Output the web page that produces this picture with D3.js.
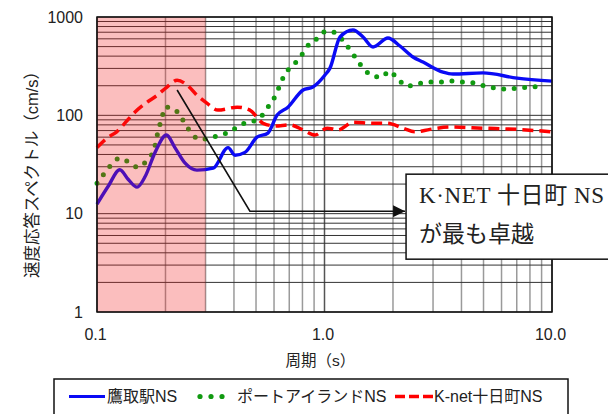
<!DOCTYPE html>
<html>
<head>
<meta charset="utf-8">
<script src="https://cdn.jsdelivr.net/npm/d3@7"></script>
<style>
  body { margin: 0; background: #fff; }
  svg { display: block; }
  text { font-family: "Liberation Sans", "Noto Sans CJK JP", sans-serif; fill: #222; }
  .note { font-family: "Liberation Serif", "Noto Sans CJK JP", serif; }
</style>
</head>
<body>
<svg width="608" height="414"></svg>
<script>
// 鷹取駅NS
const takatoriT = [0.1, 0.112, 0.126, 0.137, 0.15, 0.163, 0.18, 0.202, 0.22, 0.244, 0.275, 0.324, 0.377, 0.404, 0.447, 0.505, 0.564, 0.618, 0.691, 0.805, 0.889, 1.005, 1.057, 1.17, 1.334, 1.477, 1.634, 1.901, 2.147, 2.448, 2.71, 3.318, 3.67, 4.97, 7.02, 10];
const takatoriV = [12.5, 19, 28, 22.4, 18.6, 24, 42, 63, 47, 32.6, 27.7, 29, 47, 39.3, 42, 60, 66, 100, 121, 181, 194, 257, 302, 626, 738, 626, 495, 611, 507, 392, 348, 275, 263, 270, 239, 223];

// ポートアイランドNS
const portT = [0.1, 0.108, 0.116, 0.126, 0.14, 0.151, 0.166, 0.178, 0.187, 0.193, 0.199, 0.216, 0.234, 0.249, 0.264, 0.287, 0.314, 0.347, 0.388, 0.425, 0.47, 0.52, 0.559, 0.594, 0.624, 0.65, 0.691, 0.749, 0.805, 0.863, 0.936, 1.015, 1.123, 1.218, 1.308, 1.39, 1.492, 1.634, 1.789, 1.921, 2.104, 2.305, 2.551, 2.879, 3.22, 3.597, 4.02, 4.54, 5.08, 5.67, 6.34, 7.09, 8.0, 9.04];
const portV = [20.4, 25.8, 31.8, 36.7, 32.6, 29.7, 35, 45, 74, 94, 121, 118, 96, 76, 63, 57, 59, 63, 69, 80, 85, 94, 118, 143, 181, 228, 289, 348, 430, 543, 611, 720, 687, 556, 450, 365, 296, 251, 245, 282, 234, 198, 208, 218, 218, 223, 218, 213, 198, 189, 185, 189, 194, 198];

// K-net十日町NS
const knetT = [0.1, 0.111, 0.122, 0.136, 0.147, 0.166, 0.184, 0.203, 0.225, 0.249, 0.275, 0.304, 0.34, 0.413, 0.47, 0.537, 0.606, 0.705, 0.805, 0.908, 1.026, 1.147, 1.334, 1.634, 1.883, 2.214, 2.5, 2.909, 3.56, 4.97, 7.02, 10];
const knetV = [47, 59, 68, 89, 108, 136, 160, 194, 228, 203, 160, 133, 113, 121, 113, 83, 78, 80, 71, 63, 74, 71, 85, 83, 83, 74, 68, 72, 76, 74, 72, 68];

const seriesNames = ['鷹取駅NS', 'ポートアイランドNS', 'K-net十日町NS'];
const xTickValues = [0.1, 1, 10];
const xTickLabels = ['0.1', '1.0', '10.0'];
const yTickValues = [1, 10, 100, 1000];
const yTickLabels = ['1', '10', '100', '1000'];
const shadeRange = [0.1, 0.3];
const noteLines = ['K·NET 十日町 NS', 'が最も卓越'];
// arrow: peak of K-net -> elbow -> note box
const arrowPts = [[0.225, 181], [0.47, 10.6], [2.26, 10.6]];

const margin = {top: 17, right: 56, bottom: 102, left: 97};
const width = 608 - margin.left - margin.right;
const height = 414 - margin.top - margin.bottom;

const svg = d3.select('svg');
const g = svg.append('g')
  .attr('transform', 'translate(' + margin.left + ',' + margin.top + ')');

const x = d3.scaleLog().domain([0.1, 10]).range([0, width]);
const y = d3.scaleLog().domain([1, 1000]).range([height, 0]);

// grid
g.append('g').selectAll('line')
  .data(x.ticks())
  .enter().append('line')
  .attr('x1', d => x(d)).attr('x2', d => x(d))
  .attr('y1', 0).attr('y2', height)
  .attr('stroke', d => Math.abs(Math.log10(d) % 1) < 1e-6 ? '#555' : '#9a9a9a')
  .attr('stroke-width', 1.5);
g.append('g').selectAll('line')
  .data(y.ticks())
  .enter().append('line')
  .attr('x1', 0).attr('x2', width)
  .attr('y1', d => y(d)).attr('y2', d => y(d))
  .attr('stroke', '#333')
  .attr('stroke-width', 1);

const zip = (ts, vs) => ts.map((t, i) => [t, vs[i]]);
const line = d3.line()
  .x(d => x(d[0]))
  .y(d => y(d[1]))
  .curve(d3.curveMonotoneX);

g.append('path')
  .datum(zip(knetT, knetV))
  .attr('d', line)
  .attr('fill', 'none')
  .attr('stroke', '#ff0000')
  .attr('stroke-width', 3.5)
  .attr('stroke-dasharray', '11 6');

g.append('path')
  .datum(zip(portT, portV))
  .attr('d', line)
  .attr('fill', 'none')
  .attr('stroke', '#119a11')
  .attr('stroke-width', 5)
  .attr('stroke-linecap', 'round')
  .attr('stroke-dasharray', '0 10.5');

g.append('path')
  .datum(zip(takatoriT, takatoriV))
  .attr('d', line)
  .attr('fill', 'none')
  .attr('stroke', '#0a0af5')
  .attr('stroke-width', 3.4)
  .attr('stroke-linejoin', 'round');

// shaded band laid over the lines
g.append('rect')
  .attr('x', x(shadeRange[0]))
  .attr('y', 0)
  .attr('width', x(shadeRange[1]) - x(shadeRange[0]))
  .attr('height', height)
  .attr('fill', 'rgb(240,30,30)')
  .attr('opacity', 0.29);

g.append('rect')
  .attr('width', width).attr('height', height)
  .attr('fill', 'none')
  .attr('stroke', '#111')
  .attr('stroke-width', 1.5);

// axes
const xAxis = d3.axisBottom(x)
  .tickValues(xTickValues)
  .tickFormat((d, i) => xTickLabels[i])
  .tickSize(0)
  .tickPadding(17);
const yAxis = d3.axisLeft(y)
  .tickValues(yTickValues)
  .tickFormat((d, i) => yTickLabels[i])
  .tickSize(0)
  .tickPadding(14);
g.append('g')
  .attr('transform', 'translate(-2,' + height + ')')
  .call(xAxis)
  .call(a => a.select('.domain').remove());
g.append('g')
  .call(yAxis)
  .call(a => a.select('.domain').remove());
g.selectAll('.tick text')
  .attr('font-family', null)
  .attr('fill', '#222')
  .style('font-size', '16px');

g.append('text')
  .attr('transform', 'translate(-65,' + ((y(10) + y(100)) / 2 + 6) + ') rotate(-90)')
  .attr('text-anchor', 'middle')
  .attr('dy', '0.35em')
  .style('font-size', '16.5px')
  .text('速度応答スペクトル（cm/s）');
g.append('text')
  .attr('x', x(1) - 4)
  .attr('y', height + 54)
  .attr('text-anchor', 'middle')
  .style('font-size', '15.5px')
  .text('周期（s）');

// arrow + note
svg.append('defs').append('marker')
  .attr('id', 'head')
  .attr('markerUnits', 'userSpaceOnUse')
  .attr('markerWidth', 14).attr('markerHeight', 12)
  .attr('refX', 12).attr('refY', 6)
  .attr('orient', 'auto')
  .append('path')
  .attr('d', 'M0,0L12,6L0,12Z')
  .attr('fill', '#111');

g.append('path')
  .datum(arrowPts)
  .attr('d', d3.line().x(d => x(d[0])).y(d => y(d[1])))
  .attr('fill', 'none')
  .attr('stroke', '#111')
  .attr('stroke-width', 1.6)
  .attr('marker-end', 'url(#head)');

const tip = arrowPts[arrowPts.length - 1];
const note = g.append('g')
  .attr('transform', 'translate(' + (x(tip[0]) + 1) + ',' + (y(tip[1]) - 37) + ')');
note.append('rect')
  .attr('width', 230).attr('height', 85)
  .attr('fill', '#fff')
  .attr('stroke', '#111')
  .attr('stroke-width', 1.5);
note.selectAll('text')
  .data(noteLines)
  .enter().append('text')
  .attr('class', 'note')
  .attr('x', 13)
  .attr('y', (d, i) => 29 + i * 39)
  .style('font-size', '23px')
  .style('letter-spacing', (d, i) => i === 0 ? '0.6px' : '0px')
  .text(d => d);

// legend
const legend = svg.append('g').attr('transform', 'translate(54,379)');
legend.append('rect')
  .attr('width', 514).attr('height', 60)
  .attr('fill', '#fff')
  .attr('stroke', '#111')
  .attr('stroke-width', 1.5);
const ly = 17.5;
legend.append('line')
  .attr('x1', 15).attr('x2', 51).attr('y1', ly).attr('y2', ly)
  .attr('stroke', '#0a0af5').attr('stroke-width', 3);
legend.selectAll('circle')
  .data([146, 157, 168])
  .enter().append('circle')
  .attr('cx', d => d).attr('cy', ly)
  .attr('r', 2.6)
  .attr('fill', '#119a11');
legend.append('line')
  .attr('x1', 341).attr('x2', 379).attr('y1', ly).attr('y2', ly)
  .attr('stroke', '#ff0000').attr('stroke-width', 3.5)
  .attr('stroke-dasharray', '10 4');
legend.selectAll('text')
  .data(seriesNames)
  .enter().append('text')
  .attr('x', (d, i) => [53, 183, 380][i])
  .attr('y', ly)
  .attr('dy', '0.35em')
  .style('font-size', '16px')
  .text(d => d);
</script>
</body>
</html>
